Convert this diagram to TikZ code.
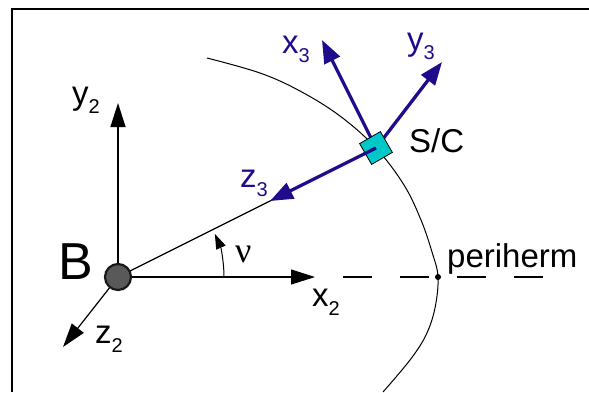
\documentclass[tikz,border=0pt]{standalone}
\usepackage{fontspec}
\setmainfont{Liberation Sans}
\newfontfamily\serifgr{Liberation Serif}
\usetikzlibrary{arrows.meta,calc}
\definecolor{navy}{RGB}{30,12,140}
\definecolor{sccyan}{RGB}{0,200,200}
\newcommand\subs[1]{\raisebox{-9pt}{\fontsize{20}{20}\selectfont #1}}
\tikzset{
  lbl/.style={inner sep=0pt, anchor=base west, font=\fontsize{33}{33}\selectfont},
  bluelbl/.style={lbl, text=navy},
  axis/.style={line width=1.2pt, -{Triangle[length=24pt,width=15pt]}},
  bvec/.style={draw=navy, line width=3.3pt, -{Triangle[length=23pt,width=17pt]}},
}
\begin{document}
\begin{tikzpicture}[x=1pt,y=-1pt]
\useasboundingbox (0,0) rectangle (589,392);
% frame
\draw[line width=2.5pt] (12,392) -- (12,9) -- (589,9);
% coordinates
\coordinate (B) at (118,277);
\coordinate (y2t) at (118,103);
\coordinate (x2t) at (315,277);
\coordinate (z2t) at (63,347);
\coordinate (SC) at (376,148);
\coordinate (d1) at (343,277);
\coordinate (d2) at (543,277);
\coordinate (peri) at (438,277);
\coordinate (x3t) at (322,40);
\coordinate (y3t) at (442,62);
\coordinate (z3t) at (270,201);
\coordinate (arcs) at (224,277);
% orbit
\draw[line width=1pt] plot[smooth, tension=0.6] coordinates {(207,58) (260,73) (300,91) (340,116) (376,148) (404,185) (421,220) (432,252) (438,277) (435,308) (426,335) (410,360) (383,392)};
% dashed extension
\draw[line width=1.2pt, dash pattern=on 29pt off 28pt] (d1) -- (d2);
\fill (peri) circle (3);
% axes
\draw[axis] (B) -- (y2t);
\draw[axis] (B) -- (x2t);
\draw[axis] (B) -- (z2t);
\draw[line width=1.2pt] (B) -- (SC);
% angle
\draw[line width=1pt, -{Triangle[length=15pt,width=10pt]}] (arcs) arc[start angle=0, end angle=24, radius=106pt];
% body
\node[circle, minimum size=26pt, inner sep=0pt, fill=black!65, draw=black!90, line width=2.2pt] (Bc) at (B) {};
% S/C vectors
\draw[bvec] (SC) -- (x3t);
\draw[bvec] (SC) -- (y3t);
\draw[bvec] (SC) -- (z3t);
\node[rotate=30, minimum size=24pt, inner sep=0pt, fill=sccyan, draw=black, line width=0.8pt] (sq) at (SC) {};
\draw[navy, line width=3.3pt] (sq.center) -- ++(-12,6);
% labels
\node[inner sep=0pt, font=\fontsize{52}{52}\selectfont] (Blbl) at (76,261.5) {B};
\node[lbl] (y2l) at (72,104) {y\subs{2}};
\node[lbl] (x2l) at (312,306) {x\subs{2}};
\node[lbl] (z2l) at (95,343) {z\subs{2}};
\node[bluelbl] (x3l) at (282,53) {x\subs{3}};
\node[bluelbl] (y3l) at (407,50) {y\subs{3}};
\node[bluelbl] (z3l) at (240,187) {z\subs{3}};
\node[lbl] (scl) at (409,152) {S/C};
\node[lbl] (peril) at (447,267) {periherm};
\node[inner sep=0pt, anchor=base west, font=\serifgr\fontsize{36}{36}\selectfont] (nu) at (235,262) {ν};
\end{tikzpicture}
\end{document}
